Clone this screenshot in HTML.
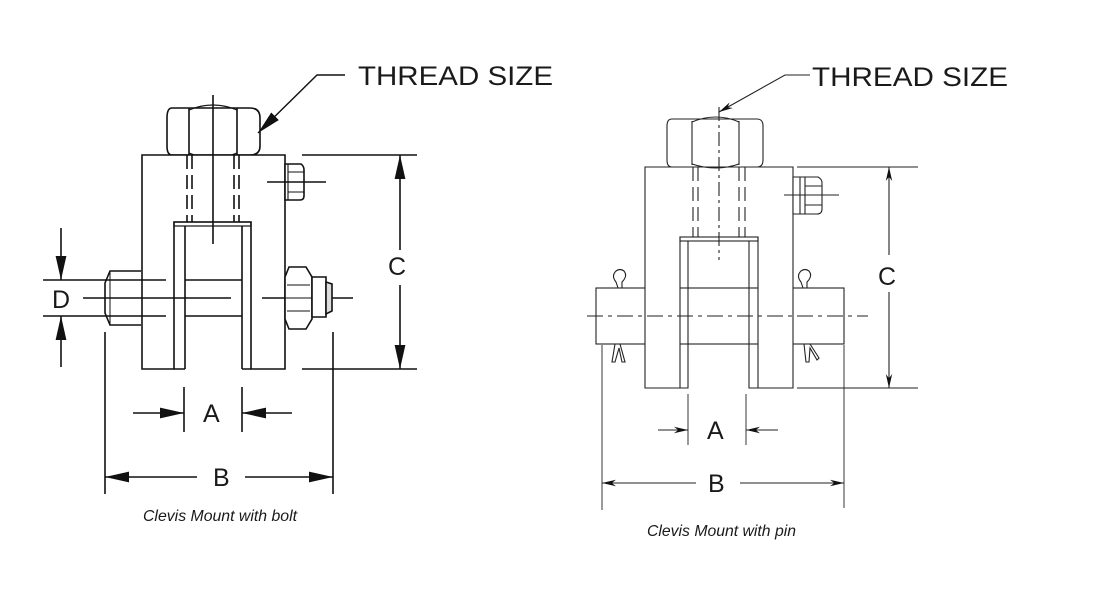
<!DOCTYPE html>
<html><head><meta charset="utf-8"><style>
html,body{margin:0;padding:0;background:#fff;width:1110px;height:600px;overflow:hidden}
svg{display:block}
text{font-family:"Liberation Sans",sans-serif;fill:#1a1a1a}
</style></head><body>
<svg width="1110" height="600" viewBox="0 0 1110 600" xmlns="http://www.w3.org/2000/svg">
<defs>
<marker id="ahb" viewBox="0 0 10 10" refX="10" refY="5" markerWidth="24" markerHeight="12" markerUnits="userSpaceOnUse" orient="auto-start-reverse" preserveAspectRatio="none"><path d="M0,0.5 L10,5 L0,9.5 Z" fill="#111"/></marker>
<marker id="ahs" viewBox="0 0 10 10" refX="10" refY="5" markerWidth="14" markerHeight="8" markerUnits="userSpaceOnUse" orient="auto-start-reverse" preserveAspectRatio="none"><path d="M0,1 L10,5 L0,9 L3,5 Z" fill="#111"/></marker>
</defs>

<!-- ============ LEFT ============ -->
<g stroke="#111" fill="none" stroke-width="1.6">
<path d="M172,108 L250,108 Q260,108 260,118 L260,146 Q260,155 250,155 L172,155 Q167,155 167,146 L167,118 Q167,108 172,108 Z" fill="#fff"/>
<path d="M189,108 L189,155 M237,108 L237,155"/>
<path d="M189,110 Q213,100 237,110 M189,153 Q213,163 237,153" stroke-width="1.2"/>
<path d="M142,155 L285,155 L285,369 L251,369 L251,222 L174,222 L174,369 L142,369 Z" fill="#fff"/>
<rect x="174" y="222" width="77" height="4" stroke-width="1.2"/>
<path d="M185,226 L185,369 M174,369 L185,369 M242,226 L242,369 M242,369 L251,369"/>
<path d="M187,155 V222 M192,155 V222 M234,155 V222 M239,155 V222" stroke-dasharray="14,6"/>
<path d="M141,271 L110,271 L105,283 L105,313 L110,325 L141,325" fill="#fff"/>
<path d="M110,271 L110,325" stroke-width="1"/>
<path d="M185,280 L242,280 M185,316 L242,316"/>
<path d="M213,95 V244"/>
<path d="M83,298 H231 M262,298 H292 M322,298 H353"/>
<path d="M289,267 L306,267 L312,277 L312,319 L306,329 L289,329 L285,319 L285,277 Z" fill="#fff"/>
<path d="M285,298 H312 M287,285 H310 M287,311 H310" stroke-width="1.1"/>
<path d="M312,277 L326,277 L326,317 L312,317 Z" fill="#fff"/>
<path d="M326,282 L332,284 L332,311 L326,314 Z" fill="#ddd"/>
<path d="M285,164 L301,164 Q304,166 304,170 L304,196 Q304,200 300,200 L285,200 Z" fill="#fff"/>
<path d="M288,164 V200 M288,172 H304 M288,192 H304" stroke-width="1.1"/>
<path d="M267,182 H326"/>
<path d="M345,75 H317 L258,133" stroke-width="1.4" marker-end="url(#ahb)"/>
<path d="M43,280 H166 M43,316 H166" stroke-width="1.4"/>
<path d="M61,228 V280" marker-end="url(#ahb)"/>
<path d="M61,367 V316" marker-end="url(#ahb)"/>
<path d="M302,155 H417 M302,369 H417" stroke-width="1.4"/>
<path d="M400,250 V155" marker-end="url(#ahb)"/>
<path d="M400,285 V369" marker-end="url(#ahb)"/>
<path d="M105,332 V494 M333,332 V494 M184,387 V432 M242,387 V432"/>
<path d="M133,413 H184" marker-end="url(#ahb)"/>
<path d="M292,413 H242" marker-end="url(#ahb)"/>
<path d="M197,477 H105" marker-end="url(#ahb)"/>
<path d="M245,477 H333" marker-end="url(#ahb)"/>
</g>
<text x="358" y="85" font-size="27" textLength="195" lengthAdjust="spacingAndGlyphs">THREAD SIZE</text>
<text x="52" y="308" font-size="25">D</text>
<text x="388" y="275" font-size="25">C</text>
<text x="203" y="422" font-size="25">A</text>
<text x="213" y="486" font-size="25">B</text>
<text x="143" y="521" font-size="16" font-style="italic" textLength="154" lengthAdjust="spacingAndGlyphs">Clevis Mount with bolt</text>

<!-- ============ RIGHT ============ -->
<g stroke="#222" fill="none" stroke-width="1.1">
<rect x="596" y="288" width="248" height="56" fill="#fff"/>
<path d="M645,167 L793,167 L793,388 L758,388 L758,237 L680,237 L680,388 L645,388 Z" fill="#fff"/>
<rect x="680" y="237" width="78" height="4"/>
<path d="M688,241 V388 H680 M749,241 V388 H758"/>
<path d="M672,119 L757,119 Q763,119 763,126 L763,160 Q763,167 757,167 L672,167 Q667,167 667,160 L667,126 Q667,119 672,119 Z" fill="#fff"/>
<path d="M692,121 V165 M739,121 V165"/>
<path d="M692,122 Q716,112 739,122 M692,164 Q716,172 739,164"/>
<path d="M693,167 V237 M698,167 V237 M739,167 V237 M745,167 V237" stroke-dasharray="14,6"/>
<path d="M719,107 V260" stroke-dasharray="14,4,3,4"/>
<path d="M587,316 H868" stroke-dasharray="16,5,4,5"/>
<path d="M793,177 L818,177 Q822,179 822,183 L822,209 Q822,214 817,214 L793,214 Z" fill="#fff"/>
<path d="M800,177 V214 M805,177 V214 M805,186 H822 M805,205 H822"/>
<path d="M784,195 H839"/>
<path d="M618,288 L616,282 Q611,276 616,271 Q620,268 624,271 Q628,276 622,282 L622,288"/>
<path d="M615,344 L612,362 L615,362 L619,348 L622,362 L625,362 L620,344"/>
<path d="M803,288 L801,282 Q796,276 801,271 Q805,268 809,271 Q813,276 807,282 L807,288"/>
<path d="M804,344 L806,362 L809,362 L810,348 L817,360 L819,358 L810,344"/>
<path d="M810,75 H785 L719,112" marker-end="url(#ahs)"/>
<path d="M797,167 H918 M797,388 H918"/>
<path d="M889,255 V167" marker-end="url(#ahs)"/>
<path d="M889,292 V388" marker-end="url(#ahs)"/>
<path d="M602,345 V510 M844,345 V508 M688,394 V445 M746,394 V445" stroke-width="0.9"/>
<path d="M658,430 H688" marker-end="url(#ahs)"/>
<path d="M778,430 H746" marker-end="url(#ahs)"/>
<path d="M696,483 H602" marker-end="url(#ahs)"/>
<path d="M740,483 H844" marker-end="url(#ahs)"/>
</g>
<text x="812" y="86" font-size="27" textLength="196" lengthAdjust="spacingAndGlyphs">THREAD SIZE</text>
<text x="878" y="285" font-size="25">C</text>
<text x="707" y="439" font-size="25">A</text>
<text x="708" y="492" font-size="25">B</text>
<text x="647" y="536" font-size="16" font-style="italic" textLength="149" lengthAdjust="spacingAndGlyphs">Clevis Mount with pin</text>
</svg>
</body></html>
